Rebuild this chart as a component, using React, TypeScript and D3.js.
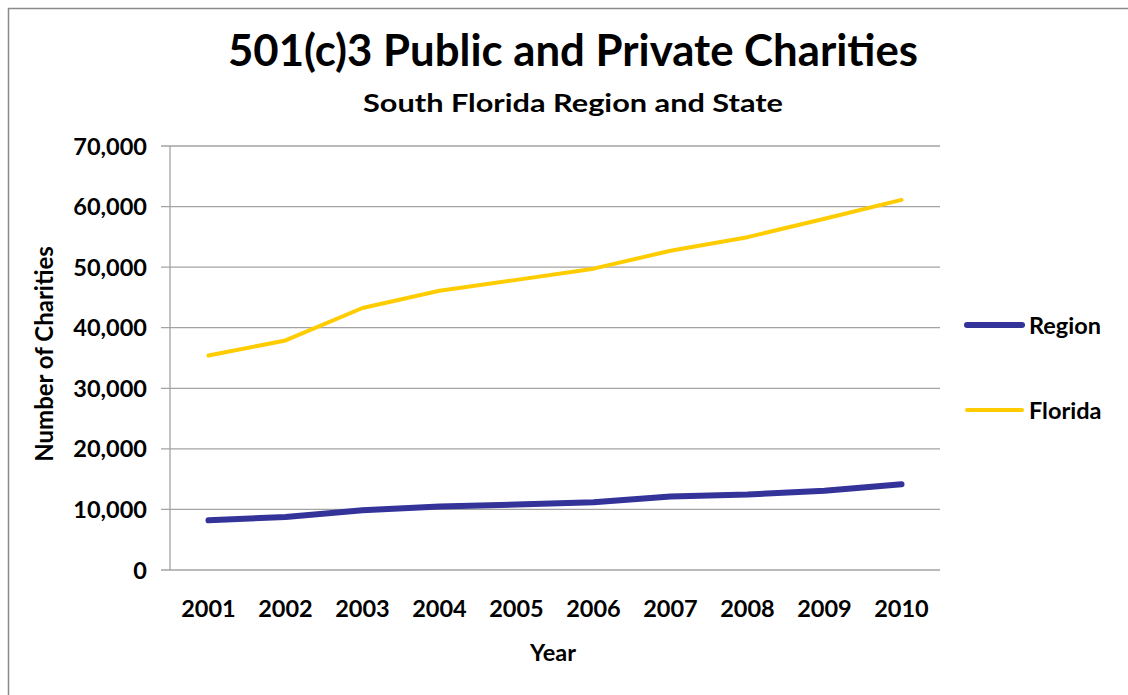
import React from "react";
import * as d3 from "d3";

const years = ["2001", "2002", "2003", "2004", "2005", "2006", "2007", "2008", "2009", "2010"];
const regionValues = [8200, 8750, 9850, 10500, 10800, 11200, 12150, 12450, 13100, 14150];
const floridaValues = [35400, 37900, 43250, 46100, 47900, 49750, 52700, 54950, 58000, 61100];
const yTicks = [0, 10000, 20000, 30000, 40000, 50000, 60000, 70000];
const seriesNames = ["Region", "Florida"];
const seriesColors = ["#333399", "#FFCC00"];
const seriesWidths = [6, 4];

const FONT = "Lato, 'Open Sans', sans-serif";
const TICK = 23.5;

export default function App() {
  const W = 1128, H = 695;
  const x = d3.scaleBand<string>().domain(years).range([170, 940]).padding(0);
  const y = d3.scaleLinear().domain([0, 70000]).range([570, 146]);
  const cx = (d: string) => (x(d) as number) + x.bandwidth() / 2;
  const line = d3.line<number>().x((_, i) => cx(years[i])).y((v) => y(v));
  const fmt = d3.format(",");
  const series = [regionValues, floridaValues];

  return (
    <svg width={W} height={H} style={{ position: "absolute", left: 0, top: 0, background: "#fff" }}>
      <rect x={0} y={0} width={W} height={H} fill="#fff" />
      <rect x={8.5} y={8.5} width={1300} height={900} fill="none" stroke="#8a8a8a" strokeWidth={1.5} />
      <text x={573} y={66} textAnchor="middle" fontFamily={FONT} fontWeight={700} fontSize={43}
        textLength={690} lengthAdjust="spacingAndGlyphs" fill="#000">501(c)3 Public and Private Charities</text>
      <text x={573} y={112} textAnchor="middle" fontFamily={FONT} fontWeight={700} fontSize={24.5}
        textLength={420} lengthAdjust="spacingAndGlyphs" fill="#000">South Florida Region and State</text>

      {/* gridlines & y ticks */}
      {yTicks.map((t) => (
        <g key={t}>
          <line x1={161} x2={940} y1={y(t)} y2={y(t)} stroke="#a3a3a3" strokeWidth={1.3} />
          <text x={147} y={y(t) + 8.5} textAnchor="end" fontFamily={FONT} fontWeight={700} fontSize={TICK}
            fill="#000">{fmt(t)}</text>
        </g>
      ))}
      <line x1={170} x2={170} y1={146} y2={570} stroke="#a3a3a3" strokeWidth={1.3} />

      {/* x labels */}
      {years.map((yr) => (
        <text key={yr} x={cx(yr)} y={617} textAnchor="middle" fontFamily={FONT} fontWeight={700} fontSize={TICK}
          fill="#000">{yr}</text>
      ))}
      <text x={553} y={661} textAnchor="middle" fontFamily={FONT} fontWeight={700} fontSize={23.5} fill="#000">Year</text>
      <text transform="translate(53,354) rotate(-90)" textAnchor="middle" fontFamily={FONT} fontWeight={700}
        fontSize={24} fill="#000">Number of Charities</text>

      {/* lines */}
      {series.map((vals, i) => (
        <path key={seriesNames[i]} d={line(vals) as string} fill="none" stroke={seriesColors[i]}
          strokeWidth={seriesWidths[i]} strokeLinecap="round" strokeLinejoin="round" />
      ))}

      {/* legend */}
      {seriesNames.map((name, i) => {
        const ly = i === 0 ? 325 : 410;
        return (
          <g key={name}>
            <line x1={967} x2={1022} y1={ly} y2={ly} stroke={seriesColors[i]} strokeWidth={seriesWidths[i]}
              strokeLinecap="round" />
            <text x={1029} y={ly + 9} fontFamily={FONT} fontWeight={700} fontSize={TICK} fill="#000">{name}</text>
          </g>
        );
      })}
    </svg>
  );
}
